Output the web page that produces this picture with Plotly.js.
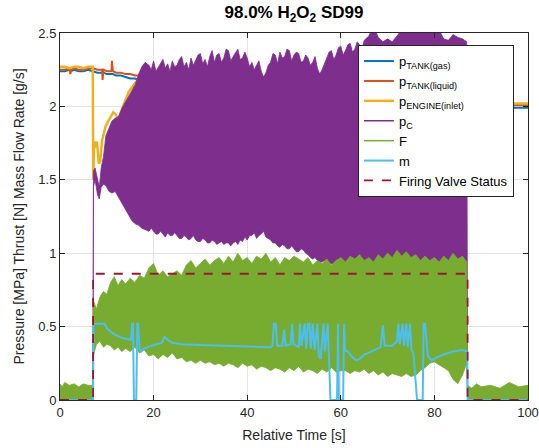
<!DOCTYPE html>
<html>
<head>
<meta charset="utf-8">
<script src="https://cdn.plot.ly/plotly-3.0.1.min.js"></script>
<style>html,body{margin:0;padding:0;background:#fff;}#chart{width:539px;height:448px;}</style>
</head>
<body>
<div id="chart"></div>
<script>
// ---------- data ----------
// tank pressures [MPa]
var tTank = [0, 1, 2, 2.2, 2.4, 3, 4, 5, 6, 7, 8, 9, 9.1, 9.3, 10, 11, 11.1, 11.3, 12, 13, 14, 15, 16, 17, 30, 50, 70, 87, 88, 90, 95, 100];
var pTankGas = [2.24, 2.24, 2.25, 2.24, 2.24, 2.25, 2.24, 2.24, 2.25, 2.24, 2.23, 2.23, 2.23, 2.23, 2.22, 2.22, 2.22, 2.22, 2.21, 2.21, 2.20, 2.19, 2.19, 2.18, 2.13, 2.08, 2.03, 1.99, 1.99, 1.99, 1.99, 1.99];
var pTankLiq = [2.25, 2.25, 2.26, 2.22, 2.25, 2.26, 2.25, 2.25, 2.26, 2.26, 2.25, 2.25, 2.18, 2.25, 2.24, 2.24, 2.31, 2.24, 2.23, 2.23, 2.22, 2.22, 2.21, 2.21, 2.16, 2.10, 2.05, 2.01, 2.01, 2.01, 2.01, 2.01];
// engine inlet pressure [MPa]
var tEng = [0, 1, 2, 3, 4, 5, 6, 7.0, 7.1, 7.3, 7.6, 7.9, 8.3, 8.6, 9.0, 9.7, 10.3, 10.8, 11.4, 11.8, 12.5, 13.2, 14.0, 14.7, 15.4, 16.1, 17.0, 18.0, 30, 50, 70, 87.0, 87.1, 88, 90, 95, 100];
var pEng = [2.27, 2.27, 2.26, 2.27, 2.27, 2.26, 2.27, 2.27, 1.50, 1.76, 1.72, 1.76, 1.61, 1.63, 1.77, 1.86, 1.90, 1.93, 1.96, 1.95, 1.91, 1.98, 2.04, 2.10, 2.13, 2.16, 2.19, 2.21, 2.17, 2.12, 2.08, 2.04, 2.02, 2.03, 2.02, 2.02, 2.02];
// chamber pressure p_C envelope [MPa]
var tPc = [7.05, 7.15, 7.5, 8.0, 8.4, 8.8, 9.3, 9.8, 10.5, 11.1, 11.8, 12.5, 13.3, 14.0, 14.7, 15.4, 16.1, 16.8, 17.5, 18.2, 19, 19.5, 20, 20.5, 21, 21.5, 22, 22.5, 23, 23.5, 24, 24.5, 25, 25.5, 26, 26.5, 27, 27.5, 28, 28.5, 29, 29.5, 30, 30.5, 31, 31.5, 32, 32.5, 33, 33.5, 34, 34.5, 35, 35.5, 36, 36.5, 37, 37.5, 38, 38.5, 39, 39.5, 40, 40.5, 41, 41.5, 42, 42.5, 43, 43.5, 44, 44.5, 45, 45.5, 46, 46.5, 47, 47.5, 48, 48.5, 49, 49.5, 50, 50.5, 51, 51.5, 52, 52.5, 53, 53.5, 54, 54.5, 55, 55.5, 56, 56.5, 57, 57.5, 58, 58.5, 59, 59.5, 60, 60.5, 61, 61.5, 62, 62.5, 63, 63.5, 64, 64.5, 65, 66, 67, 68, 69, 70, 71, 72, 73, 74, 76, 78, 80, 81, 82, 83, 84, 85, 86, 86.9, 87.1];
var pcHigh = [0, 1.56, 1.58, 1.50, 1.45, 1.58, 1.66, 1.80, 1.86, 1.90, 1.92, 1.93, 1.99, 2.03, 2.08, 2.12, 2.15, 2.22, 2.27, 2.30, 2.28, 2.25, 2.31, 2.24, 2.27, 2.30, 2.32, 2.26, 2.29, 2.24, 2.31, 2.27, 2.28, 2.32, 2.34, 2.27, 2.30, 2.25, 2.33, 2.28, 2.31, 2.35, 2.36, 2.29, 2.32, 2.27, 2.34, 2.38, 2.30, 2.35, 2.36, 2.30, 2.33, 2.39, 2.38, 2.31, 2.34, 2.37, 2.39, 2.32, 2.33, 2.37, 2.33, 2.27, 2.30, 2.25, 2.28, 2.31, 2.24, 2.20, 2.23, 2.28, 2.30, 2.36, 2.35, 2.29, 2.37, 2.33, 2.34, 2.39, 2.38, 2.31, 2.35, 2.37, 2.36, 2.30, 2.31, 2.35, 2.33, 2.28, 2.30, 2.34, 2.26, 2.22, 2.25, 2.29, 2.33, 2.37, 2.38, 2.32, 2.35, 2.40, 2.41, 2.35, 2.38, 2.42, 2.43, 2.37, 2.39, 2.44, 2.42, 2.38, 2.45, 2.48, 2.55, 2.47, 2.44, 2.46, 2.44, 2.48, 2.52, 2.56, 2.56, 2.57, 2.56, 2.52, 2.46, 2.45, 2.49, 2.47, 2.46, 2.44, 0];
var pcLow = [0, 1.45, 1.50, 1.40, 1.37, 1.45, 1.47, 1.46, 1.42, 1.41, 1.42, 1.38, 1.33, 1.29, 1.26, 1.22, 1.20, 1.19, 1.17, 1.16, 1.15, 1.17, 1.15, 1.13, 1.13, 1.15, 1.13, 1.11, 1.14, 1.12, 1.12, 1.14, 1.12, 1.10, 1.10, 1.12, 1.11, 1.09, 1.10, 1.12, 1.09, 1.08, 1.08, 1.10, 1.09, 1.07, 1.07, 1.09, 1.08, 1.06, 1.07, 1.08, 1.06, 1.07, 1.07, 1.05, 1.07, 1.08, 1.06, 1.09, 1.08, 1.11, 1.09, 1.12, 1.12, 1.14, 1.10, 1.12, 1.13, 1.15, 1.11, 1.10, 1.09, 1.07, 1.07, 1.05, 1.04, 1.06, 1.05, 1.03, 1.03, 1.05, 1.03, 1.01, 1.01, 1.03, 1.02, 1.00, 0.99, 0.97, 0.96, 0.97, 0.95, 0.94, 0.94, 0.95, 0.94, 0.93, 0.93, 0.92, 0.92, 0.93, 0.92, 0.91, 0.91, 0.90, 0.90, 0.89, 0.89, 0.90, 0.89, 0.88, 0.88, 0.88, 0.88, 0.87, 0.87, 0.87, 0.87, 0.87, 0.86, 0.86, 0.86, 0.86, 0.86, 0.86, 0.86, 0.86, 0.86, 0.86, 0.86, 0.86, 0];
// thrust F envelope [N]
var tF = [0, 0.5, 1, 2, 3, 4, 5, 6, 7.0, 7.1, 7.8, 8.5, 9.3, 10.0, 10.8, 11.6, 12.4, 13.2, 14, 15, 16, 17, 18, 19, 20, 21, 22, 23, 24, 25, 26, 27, 28, 29, 30, 31, 32, 33, 34, 35, 36, 37, 38, 39, 40, 41, 42, 43, 44, 45, 46, 47, 48, 49, 50, 51, 52, 53, 54, 55, 56, 57, 58, 59, 60, 61, 62, 63, 64, 65, 66, 67, 68, 69, 70, 71, 72, 73, 74, 75, 76, 77, 78, 79, 80, 81, 82, 83, 84, 85, 86, 86.9, 87.1, 88, 89, 90, 92, 94, 96, 98, 100];
var fHigh = [0.11, 0.09, 0.12, 0.10, 0.11, 0.09, 0.11, 0.10, 0.10, 0.68, 0.62, 0.70, 0.74, 0.72, 0.80, 0.84, 0.78, 0.82, 0.79, 0.83, 0.80, 0.85, 0.83, 0.90, 0.93, 0.85, 0.88, 0.84, 0.86, 0.88, 0.85, 0.92, 0.95, 0.90, 0.93, 0.96, 0.92, 0.95, 0.97, 0.93, 0.98, 0.94, 1.00, 0.95, 0.97, 0.93, 0.98, 0.96, 1.00, 0.94, 0.97, 0.92, 0.97, 0.95, 0.98, 0.96, 0.94, 0.97, 0.92, 0.95, 0.93, 0.96, 0.92, 0.95, 0.97, 0.94, 0.98, 0.96, 0.99, 0.95, 0.97, 0.94, 0.99, 0.96, 1.00, 0.97, 1.02, 0.98, 1.01, 0.97, 0.99, 0.95, 0.98, 0.95, 0.97, 0.94, 0.98, 0.95, 1.00, 0.96, 0.98, 0.94, 0.10, 0.08, 0.11, 0.09, 0.10, 0.08, 0.12, 0.09, 0.10];
var fLow = [0, 0, 0, 0, 0, 0, 0, 0, 0, 0.30, 0.38, 0.40, 0.36, 0.38, 0.37, 0.34, 0.36, 0.33, 0.35, 0.33, 0.36, 0.32, 0.34, 0.30, 0.31, 0.28, 0.31, 0.29, 0.32, 0.28, 0.29, 0.26, 0.27, 0.25, 0.27, 0.25, 0.26, 0.24, 0.25, 0.23, 0.25, 0.24, 0.22, 0.25, 0.23, 0.24, 0.21, 0.23, 0.22, 0.20, 0.22, 0.21, 0.19, 0.22, 0.20, 0.23, 0.19, 0.21, 0.20, 0.18, 0.21, 0.19, 0.22, 0.19, 0.20, 0.20, 0.18, 0.20, 0.19, 0.21, 0.18, 0.20, 0.17, 0.19, 0.16, 0.18, 0.17, 0.16, 0.18, 0.16, 0.17, 0.20, 0.22, 0.25, 0.26, 0.24, 0.22, 0.20, 0.14, 0.11, 0.17, 0.25, 0, 0, 0, 0, 0, 0, 0, 0, 0];
// mass flow rate m [g/s]
var tM = [0, 7.05, 7.15, 9.5, 10.0, 11.0, 12.0, 13.5, 15.2, 15.4, 15.6, 15.8, 16.3, 16.5, 16.7, 17.0, 17.3, 18.0, 19.5, 21.0, 21.8, 22.3, 23.0, 24.0, 26.0, 30.0, 35.0, 40.0, 45.0, 45.4, 45.7, 46.1, 46.4, 47.5, 47.9, 48.2, 49.3, 49.6, 49.9, 51.0, 51.3, 51.6, 52.3, 52.6, 53.0, 53.3, 53.6, 54.0, 54.4, 55.0, 55.3, 55.7, 56.3, 56.6, 57.2, 57.8, 59.2, 59.4, 59.6, 60.5, 60.7, 60.9, 61.5, 62.5, 63.3, 64.0, 65.0, 66.5, 68.5, 69.0, 69.4, 71.0, 72.0, 72.3, 72.6, 73.2, 73.5, 74.0, 74.3, 74.8, 75.1, 75.5, 76.3, 77.5, 77.7, 78.0, 78.3, 78.6, 79.4, 80.5, 82.0, 84.0, 86.0, 87.0, 87.1, 100];
var mFlow = [0, 0, 0.52, 0.52, 0.49, 0.46, 0.44, 0.42, 0.41, 0.52, 0.52, 0, 0, 0.52, 0.52, 0.35, 0.33, 0.35, 0.37, 0.38, 0.39, 0.43, 0.41, 0.39, 0.38, 0.375, 0.37, 0.365, 0.36, 0.37, 0.52, 0.52, 0.37, 0.37, 0.48, 0.37, 0.38, 0.52, 0.38, 0.36, 0.52, 0.37, 0.52, 0.35, 0.52, 0.52, 0.35, 0.52, 0.34, 0.52, 0.30, 0.28, 0.52, 0.33, 0.52, 0, 0, 0.52, 0, 0, 0.52, 0.34, 0.33, 0.29, 0.27, 0.28, 0.31, 0.33, 0.36, 0.51, 0.37, 0.37, 0.40, 0.52, 0.38, 0.52, 0.37, 0.52, 0.36, 0.52, 0.34, 0.32, 0, 0, 0.52, 0.52, 0.40, 0.30, 0.27, 0.29, 0.31, 0.33, 0.34, 0.33, 0, 0];
// firing valve status
var tValve = [0, 7.07, 7.07, 87.1, 87.1, 100];
var valve = [0, 0, 0.86, 0.86, 0, 0];

// ---------- styling ----------
var C = {blue:'#0072BD', orange:'#D95319', yellow:'#EDB120', purple:'#7E2F8E', green:'#77AC30', cyan:'#4DBEEE', red:'#A2142F'};
var FONT = 'Liberation Sans, Arial, sans-serif';

function band(t, hi, lo) {
  return {x: t.concat(t.slice().reverse()), y: hi.concat(lo.slice().reverse())};
}
var pcBand = band(tPc, pcHigh, pcLow);
var fBand = band(tF, fHigh, fLow);

var traces = [
  {x: tTank, y: pTankGas, mode: 'lines', name: 'p<sub>TANK(gas)</sub>', line: {color: C.blue, width: 2}},
  {x: tTank, y: pTankLiq, mode: 'lines', name: 'p<sub>TANK(liquid)</sub>', line: {color: C.orange, width: 2}},
  {x: tEng, y: pEng, mode: 'lines', name: 'p<sub>ENGINE(inlet)</sub>', line: {color: C.yellow, width: 2.5}},
  {x: [null], y: [null], mode: 'lines', name: 'p<sub>C</sub>', line: {color: C.purple, width: 1.5}},
  {x: pcBand.x, y: pcBand.y, mode: 'lines', fill: 'toself', fillcolor: C.purple, line: {color: C.purple, width: 0.8}, showlegend: false, hoverinfo: 'skip'},
  {x: [null], y: [null], mode: 'lines', name: 'F', line: {color: C.green, width: 1.5}},
  {x: fBand.x, y: fBand.y, mode: 'lines', fill: 'toself', fillcolor: C.green, line: {color: C.green, width: 0.8}, showlegend: false, hoverinfo: 'skip'},
  {x: tM, y: mFlow, mode: 'lines', name: 'm', line: {color: C.cyan, width: 2}},
  {x: tValve, y: valve, mode: 'lines', name: 'Firing Valve Status', line: {color: C.red, width: 1.8, dash: 'dash'}}
];

var axisCommon = {
  ticks: 'inside', ticklen: 5, tickwidth: 1, tickcolor: '#262626',
  mirror: 'ticks', showline: true, linecolor: '#262626', linewidth: 1,
  showgrid: true, gridcolor: '#e3e3e3', gridwidth: 1, zeroline: false,
  tickfont: {family: FONT, size: 13, color: '#262626'}
};

var layout = {
  width: 539, height: 448,
  margin: {l: 60, r: 11, t: 33, b: 48},
  paper_bgcolor: '#ffffff', plot_bgcolor: '#ffffff',
  font: {family: FONT, color: '#262626'},
  title: {text: '<b>98.0% H<sub>2</sub>O<sub>2</sub> SD99</b>', font: {family: FONT, size: 17, color: '#000000'}, x: 0.5, xref: 'paper', xanchor: 'center', y: 0.972, yref: 'container', yanchor: 'middle'},
  xaxis: Object.assign({}, axisCommon, {range: [0, 100], dtick: 20, title: {text: 'Relative Time [s]', font: {family: FONT, size: 14, color: '#262626'}, standoff: 11}}),
  yaxis: Object.assign({}, axisCommon, {range: [0, 2.5], dtick: 0.5, title: {text: 'Pressure [MPa] Thrust [N] Mass Flow Rate [g/s]', font: {family: FONT, size: 14, color: '#262626'}, standoff: 10}}),
  showlegend: true,
  legend: {x: 0.97, xanchor: 'right', y: 0.967, yanchor: 'top', bgcolor: '#ffffff', bordercolor: '#262626', borderwidth: 1,
           font: {family: FONT, size: 13, color: '#000000'}, itemwidth: 30, traceorder: 'normal'}
};

Plotly.newPlot('chart', traces, layout, {displayModeBar: false, staticPlot: true});
</script>
</body>
</html>
